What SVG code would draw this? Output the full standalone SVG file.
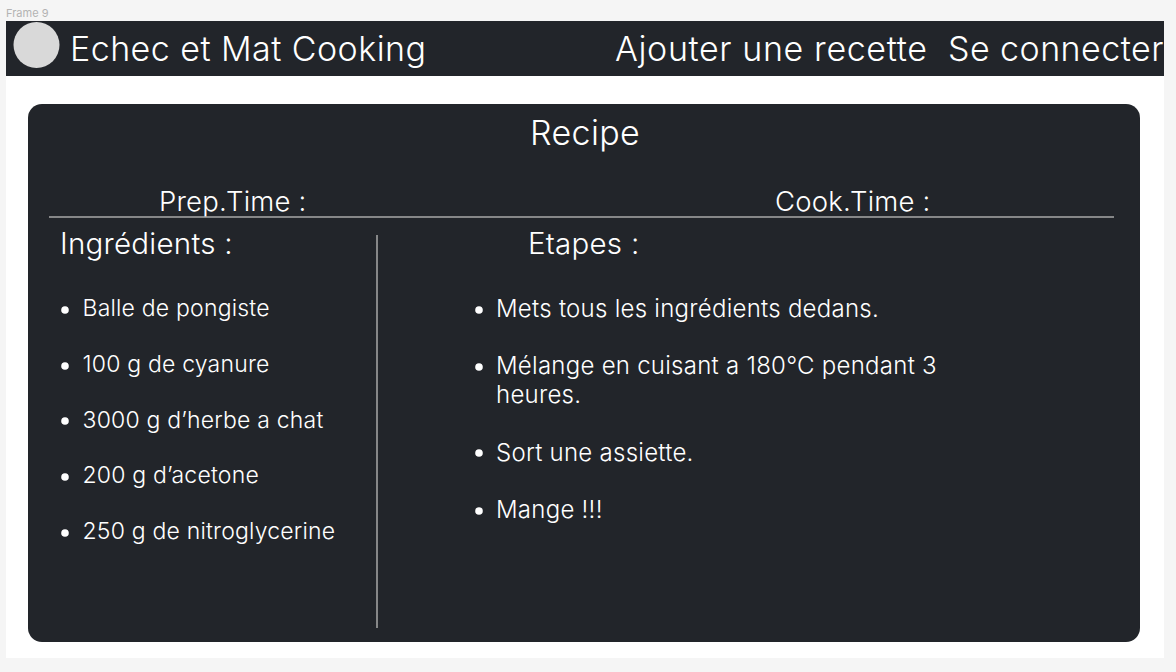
<svg xmlns="http://www.w3.org/2000/svg" width="1176" height="672" viewBox="0 0 1176 672">
<style>
text{font-family:Inter,"Liberation Sans",sans-serif;fill:#fff;font-weight:300}
.h{font-size:34px;letter-spacing:.45px}.t{font-size:27.500px;letter-spacing:.2px}.s{font-size:29.500px;letter-spacing:.25px}
.l{font-size:23px;letter-spacing:.2px}.p{font-size:24px;letter-spacing:.26px}.b{fill:#fff}
</style>
<rect width="1176" height="672" fill="#f5f5f5"/>
<rect x="6" y="21" width="1158" height="637" fill="#fff"/>
<text x="6" y="17" style="font-size:11px;fill:#b3b3b3;font-weight:400">Frame 9</text>
<g id="header">
<rect x="6" y="21" width="1158" height="55" fill="#22252a"/>
<circle cx="36.500" cy="45" r="23" fill="#d9d9d9"/>
<text class="h" x="70" y="61">Echec et Mat Cooking</text>
<text class="h" x="615" y="61" style="letter-spacing:.62px">Ajouter une recette</text>
<text class="h" x="948" y="61">Se connecter</text>
</g>
<g id="card">
<rect x="28" y="104" width="1112" height="538" rx="14" fill="#22252a"/>
<text class="h" x="530" y="145" style="letter-spacing:.35px">Recipe</text>
<text class="t" x="159" y="211">Prep.Time :</text>
<text class="t" x="775" y="211">Cook.Time :</text>
<path d="M49 217H1114M377 235V628" stroke="#a8a8a8" stroke-width="1.500" fill="none"/>
<text class="s" x="60" y="254">Ingrédients :</text>
<text class="s" x="528" y="254">Etapes :</text>
</g>
<g id="ingredients">
<circle class="b" cx="65" cy="310" r="3.800"/><text class="l" x="82.500" y="316">Balle de pongiste</text>
<circle class="b" cx="65" cy="366" r="3.800"/><text class="l" x="82.500" y="372">100 g de cyanure</text>
<circle class="b" cx="65" cy="421" r="3.800"/><text class="l" x="82.500" y="428">3000 g d’herbe a chat</text>
<circle class="b" cx="65" cy="477" r="3.800"/><text class="l" x="82.500" y="483">200 g d’acetone</text>
<circle class="b" cx="65" cy="533" r="3.800"/><text class="l" x="82.500" y="539">250 g de nitroglycerine</text>
</g>
<g id="steps">
<circle class="b" cx="479" cy="310" r="3.800"/><text class="p" x="496" y="316.500">Mets tous les ingrédients dedans.</text>
<circle class="b" cx="479" cy="367" r="3.800"/><text class="p" x="496" y="374">Mélange en cuisant a 180°C pendant 3</text>
<text class="p" x="496" y="403">heures.</text>
<circle class="b" cx="479" cy="453" r="3.800"/><text class="p" x="496" y="460.500">Sort une assiette.</text>
<circle class="b" cx="479" cy="511" r="3.800"/><text class="p" x="496" y="517.500">Mange !!!</text>
</g>
</svg>
